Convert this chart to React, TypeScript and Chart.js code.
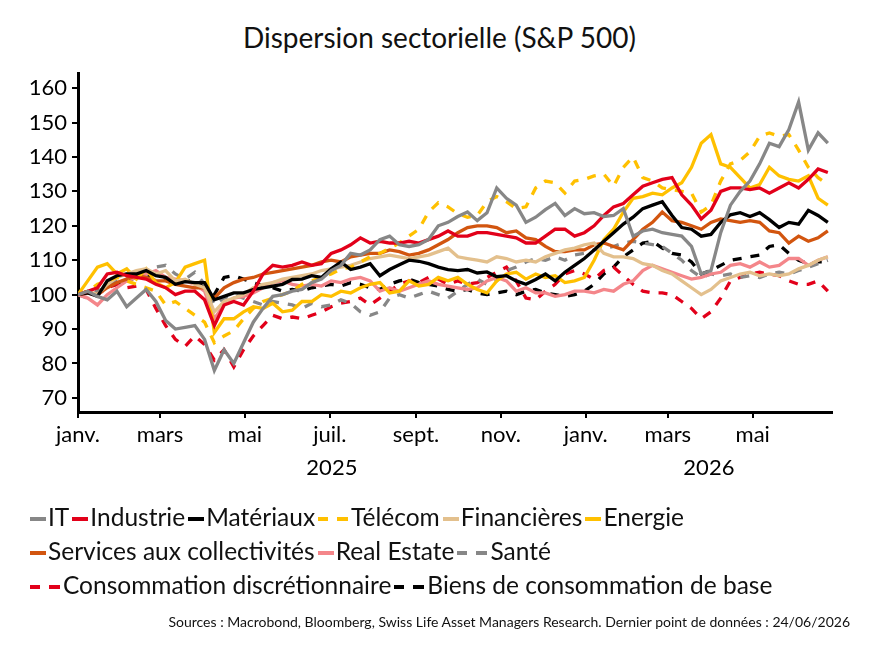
import React, { useEffect, useRef } from "react";
import { Chart, registerables } from "chart.js";

Chart.register(...registerables);

// ---- time axis (days since 1 Jan 2025, weekly observations) ----
const FIRST_DAY = 0;
const STEP_DAYS = 7;
const N_POINTS = 78;
const dayOffsets = Array.from({ length: N_POINTS }, (_, i) => FIRST_DAY + i * STEP_DAYS);

const monthTickDays = [0, 59, 120, 181, 243, 304, 365, 424, 485];
const monthTickLabels = ["janv.", "mars", "mai", "juil.", "sept.", "nov.", "janv.", "mars", "mai"];
const yearLabels = ["2025", "2026"];
const yearStartDays = [0, 365];
const yearEndDays = [365, 542];
const xMin = 0;
const xMax = 542;

const yTickValues = [70, 80, 90, 100, 110, 120, 130, 140, 150, 160];
const yMin = 65.9;
const yMax = 164.4;

// ---- series (index, base 100) ----
const itValues = [
  100, 101, 99.5, 98.5, 101, 96.5, 99, 101.5, 98, 92.5,
  90, 90.5, 91, 87, 78, 84, 80, 86, 92, 96,
  99.5, 100, 101, 101.5, 103.5, 104.5, 107, 108.5, 112, 111.5,
  113, 116, 117, 114.5, 114, 114.5, 116, 120, 121, 122.7,
  124, 121.5, 123.8, 131, 128, 126, 121, 122.5, 124.7, 126.5,
  123, 125, 123.5, 123.8, 122.7, 123, 125, 117, 118.5, 119,
  118, 117.5, 117, 114, 106, 107, 118, 126, 130, 133,
  138, 144, 143, 148, 156, 142, 147, 144,
];
const industrieValues = [
  100, 101, 102, 106, 106.5, 105.5, 105, 104.5, 103, 102,
  100, 101, 101, 98.5, 91, 97, 98, 97, 101, 106,
  108.5, 108, 108.5, 109.5, 108.5, 109, 112, 113, 114.5, 116.5,
  115, 115.5, 115, 115, 115.5, 115, 116, 117, 118.5, 117,
  117, 118, 118, 117.5, 117, 116.5, 115, 115, 117, 119,
  119, 117, 118, 120, 123, 125.5, 126.5, 129, 131.5, 132.5,
  133.5, 134, 129, 126, 122, 124.5, 130, 131, 131, 130.5,
  131, 129.5, 131, 132.5, 131, 133.5, 136.5, 135.5,
];
const materiauxValues = [
  100, 100.5, 99.5, 104, 105.5, 106, 106, 107, 105.5, 105,
  103, 103.8, 103.5, 103.5, 98.5, 99.5, 100.5, 100.5, 101.5, 102,
  102.5, 103, 104.4, 104.5, 105.5, 105, 107.5, 109.5, 107.3, 108,
  109, 105.5, 107.3, 108.7, 110, 109.7, 109, 108, 107.3, 107,
  107.3, 106.3, 106.6, 105.2, 105.5, 104, 103, 104.4, 106, 104,
  106.5, 108.5, 110.5, 113, 115.5, 118, 120.5, 122.5, 125, 126,
  127, 123, 119.5, 119, 117, 117.5, 121, 123.2, 123.8, 122.7,
  123.8, 121.8, 119.5, 121, 120.5, 124.5, 123, 121,
];
const telecomValues = [
  100, 101, 103, 104, 105, 104, 103, 102, 101, 97,
  98, 96, 94, 92, 86, 88, 89.5, 93, 96, 98,
  99, 100, 101, 103, 104, 105, 106, 107.5, 108, 109.5,
  111, 112, 113.5, 115, 117, 119, 124, 126.7, 125.5, 123.5,
  122.5, 123, 127, 128.5, 127, 125, 125.5, 131, 133, 132.5,
  129.5, 133, 133.5, 134.5, 135, 131.5, 137, 140, 134, 133,
  131, 130.5, 130, 129.5, 124, 126, 133, 138, 139, 141.5,
  146, 147, 146, 146.5, 142, 137, 134, 132,
];
const financieresValues = [
  100, 101, 100, 103, 105, 106, 107, 107.5, 106, 107,
  104, 104.5, 103, 102, 95, 98, 99, 100, 102, 103,
  103.5, 104.5, 105, 105.5, 106, 107, 107.5, 108, 108.5, 109.5,
  110.5, 111, 111.5, 111, 110.5, 111, 111.5, 112.5, 113.5, 111,
  110.5, 110, 109.5, 111, 110.5, 109.5, 110, 109.5, 111, 112,
  113, 113.5, 114.5, 115, 112, 111, 111, 110.5, 109, 108.5,
  107, 106, 104, 102, 100, 101.5, 104, 105, 106, 106.5,
  105.5, 106, 105.5, 106, 107.5, 108.5, 110, 111,
];
const energieValues = [
  100, 104, 108, 109, 106, 107.5, 104.5, 107.5, 103.5, 102,
  103.5, 108, 109, 110, 89, 93, 93, 95, 96.5, 96,
  97.5, 95, 95.5, 98, 98, 100, 99.5, 101, 100.5, 102,
  103, 103.5, 100.5, 101, 104, 102.5, 103, 105, 104, 105,
  103, 101.5, 100.5, 104, 106, 106.5, 104.5, 106, 105, 105.5,
  103.5, 104, 105, 110, 116, 119, 124, 128, 128.5, 129.5,
  129, 131, 132.5, 137, 144, 146.5, 138, 137, 134, 131,
  132, 137, 134.5, 133.5, 133, 134.5, 128, 126,
];
const servicesValues = [
  100, 100.5, 100, 102, 103.5, 104.5, 105.5, 105, 104, 104,
  103, 102.5, 102, 102, 99, 102, 103.5, 104.5, 105, 106,
  106.5, 107, 107.5, 108, 108.5, 109.5, 110, 109.5, 111, 111.5,
  112, 112, 113, 112.5, 111.5, 112, 113, 114.5, 116, 118,
  119.5, 120, 120, 119.5, 118, 118.5, 116.5, 116, 114, 112.5,
  112.5, 113, 113, 114.5, 115, 114, 113, 116, 119, 121,
  124, 121.5, 121, 120, 119, 121, 122, 121.5, 121, 121.5,
  121, 118.5, 118, 115, 117, 115.5, 116.5, 118.5,
];
const realEstateValues = [
  100, 99, 97, 100, 102, 104, 105, 106, 107, 105,
  104.5, 104, 103, 101, 93, 97, 99, 99.5, 100.5, 102,
  103.5, 104, 103, 102.5, 103, 102.5, 104, 103.5, 104.5, 105,
  104, 101, 102, 101, 102, 103, 104, 103, 102.5, 102,
  101.5, 102, 104, 105, 104, 101, 102, 100.5, 100.5, 99.5,
  100, 101, 101, 100.5, 101.5, 101, 103, 104, 107, 108.5,
  107.5, 106.5, 105.5, 104.5, 105, 106, 106.5, 108.5, 109, 108,
  109.5, 108, 108.5, 110.5, 110.5, 108.5, 110, 111,
];
const santeValues = [
  100, 99, 101, 102, 104, 105, 107, 106, 108, 108.5,
  106, 104.5, 106.5, 103, 97, 99, 100, 99, 98, 97,
  98, 97.5, 97, 96, 97.5, 96.5, 97, 98.5, 97.5, 95,
  94, 95, 99, 100, 99, 100, 101, 100, 99, 101,
  103, 104.5, 103, 104, 107, 108, 109.5, 110.5, 110, 111,
  110, 111.5, 112, 113, 113.5, 114, 115, 115.5, 115, 114.5,
  114, 112, 110, 107, 105, 106, 105.5, 106, 105, 105.5,
  105, 106, 106.5, 106, 107, 108, 109, 110,
];
const consoDiscrValues = [
  100, 101, 100, 102, 103, 102, 102.5, 101.5, 96, 91,
  87, 85, 88, 85.5, 81, 84, 79, 84, 88, 91,
  94, 93, 93.5, 93, 94, 95, 96.5, 97.5, 98, 99,
  97, 99, 101, 103, 104, 103.5, 105, 104.5, 103, 104,
  103, 103.5, 105, 106.5, 108, 104, 99, 98.5, 101, 103,
  106, 107, 106, 104.5, 107, 108, 105.5, 103, 101, 100.5,
  100.5, 100, 98, 96, 93, 95, 99, 104, 105, 106,
  106.5, 106, 105.5, 104, 103, 103, 104, 101,
];
const consoBaseValues = [
  100, 100.5, 101, 102, 103, 104, 105, 105.5, 104, 104.5,
  103.5, 104, 104, 102, 100, 105, 105.5, 104.5, 103.5, 102.5,
  102, 101, 101.5, 101, 102, 102.5, 103, 102.5, 103.5, 103,
  102, 101.5, 103, 104, 104.5, 103.5, 103, 102.5, 101.5, 101,
  101.5, 100.5, 100, 100.5, 101, 100, 101, 101.5, 100.5, 100,
  99.5, 100, 101, 103, 106, 108, 111, 113, 115, 115.5,
  113.5, 112, 111.5, 109.5, 106, 107, 108.5, 110, 110.5, 111,
  111.5, 114, 114.5, 112, 110, 109, 109.5, 109.5,
];

const seriesNames = [
  "IT",
  "Industrie",
  "Matériaux",
  "Télécom",
  "Financières",
  "Energie",
  "Services aux collectivités",
  "Real Estate",
  "Santé",
  "Consommation discrétionnaire",
  "Biens de consommation de base",
];
const seriesValues = [
  itValues,
  industrieValues,
  materiauxValues,
  telecomValues,
  financieresValues,
  energieValues,
  servicesValues,
  realEstateValues,
  santeValues,
  consoDiscrValues,
  consoBaseValues,
];

// ---- styles ----
const seriesColors = [
  "#878787",
  "#e2001a",
  "#000000",
  "#ffc000",
  "#e3c08d",
  "#ffc000",
  "#d2550f",
  "#f4868a",
  "#878787",
  "#e2001a",
  "#000000",
];
const seriesDashed = [false, false, false, true, false, false, false, false, true, true, true];
const legendRows = [
  [0, 1, 2, 3, 4, 5],
  [6, 7, 8],
  [9, 10],
];

const FONT = "Lato, 'Open Sans', sans-serif";

const yearPlugin = {
  id: "yearLabels",
  afterDraw(chart: any) {
    const { ctx } = chart;
    const x = chart.scales.x;
    ctx.save();
    ctx.font = `22px ${FONT}`;
    ctx.fillStyle = "#000";
    ctx.textAlign = "center";
    ctx.textBaseline = "middle";
    yearLabels.forEach((label, i) => {
      const mid = (yearStartDays[i] + yearEndDays[i]) / 2;
      ctx.fillText(label, x.getPixelForValue(mid), 468);
    });
    ctx.restore();
  },
};

function LegendSample({ color, dashed }: { color: string; dashed: boolean }) {
  if (dashed) {
    return (
      <span style={{ display: "inline-block", verticalAlign: "middle", marginRight: 3, width: 30, height: 4, position: "relative", top: -1 }}>
        <span style={{ position: "absolute", left: 0, top: 0, width: 10, height: 4, background: color }} />
        <span style={{ position: "absolute", left: 19, top: 0, width: 11, height: 4, background: color }} />
      </span>
    );
  }
  return (
    <span style={{ display: "inline-block", verticalAlign: "middle", marginRight: 2, width: 16, height: 4, background: color, position: "relative", top: -1 }} />
  );
}

export default function App() {
  const canvasRef = useRef<HTMLCanvasElement | null>(null);

  useEffect(() => {
    if (!canvasRef.current) return;
    Chart.defaults.font.family = FONT;
    const datasets = seriesValues.map((vals, s) => ({
      label: seriesNames[s],
      data: vals.map((v, i) => ({ x: dayOffsets[i], y: v })),
      borderColor: seriesColors[s],
      backgroundColor: seriesColors[s],
      borderWidth: 3.3,
      borderDash: seriesDashed[s] ? [9, 9] : [],
      pointRadius: 0,
      tension: 0,
      fill: false,
    }));
    const chart = new Chart(canvasRef.current, {
      type: "line",
      data: { datasets },
      options: {
        animation: false,
        responsive: false,
        maintainAspectRatio: false,
        layout: { padding: { left: 0, right: 60, top: 73, bottom: 0 } },
        plugins: {
          legend: { display: false },
          tooltip: { enabled: false },
          title: { display: false },
        },
        scales: {
          x: {
            type: "linear",
            min: xMin,
            max: xMax,
            afterBuildTicks: (scale: any) => {
              scale.ticks = monthTickDays.map((v) => ({ value: v }));
            },
            afterFit: (scale: any) => {
              scale.height = 242;
            },
            ticks: {
              autoSkip: false,
              maxRotation: 0,
              minRotation: 0,
              color: "#000",
              font: { size: 22, family: FONT },
              padding: 4,
              callback: (_v: any, index: number) => monthTickLabels[index],
            },
            grid: { drawOnChartArea: false, drawTicks: true, tickLength: 6, color: "#000", lineWidth: 2 },
            border: { display: true, color: "#000", width: 3 },
          },
          y: {
            type: "linear",
            min: yMin,
            max: yMax,
            afterBuildTicks: (scale: any) => {
              scale.ticks = yTickValues.map((v) => ({ value: v }));
            },
            afterFit: (scale: any) => {
              scale.width = 78;
            },
            ticks: {
              color: "#000",
              font: { size: 22, family: FONT },
              padding: 5,
            },
            grid: { drawOnChartArea: false, drawTicks: true, tickLength: 6, color: "#000", lineWidth: 2 },
            border: { display: true, color: "#000", width: 3 },
          },
        },
      },
      plugins: [yearPlugin],
    });
    return () => chart.destroy();
  }, []);

  return (
    <div style={{ position: "absolute", left: 0, top: 0, width: 892, height: 654, background: "#fff", fontFamily: FONT, color: "#111" }}>
      <div style={{ position: "absolute", left: 0, top: 20, width: 879, textAlign: "center", fontSize: 28, lineHeight: "34px" }}>
        Dispersion sectorielle (S&amp;P 500)
      </div>
      <canvas ref={canvasRef} width={892} height={654} style={{ position: "absolute", left: 0, top: 0, width: 892, height: 654 }} />
      {legendRows.map((row, r) => (
        <div key={r} style={{ position: "absolute", left: 30, top: 502 + r * 34, fontSize: 24.5, lineHeight: "30px", whiteSpace: "nowrap" }}>
          {row.map((s) => (
            <span key={s} style={{ marginRight: 3 }}>
              <LegendSample color={seriesColors[s]} dashed={seriesDashed[s]} />
              {seriesNames[s]}
            </span>
          ))}
        </div>
      ))}
      <div style={{ position: "absolute", right: 42, top: 613, fontSize: 14, lineHeight: "18px", whiteSpace: "nowrap" }}>
        Sources : Macrobond, Bloomberg, Swiss Life Asset Managers Research. Dernier point de données : 24/06/2026
      </div>
    </div>
  );
}
